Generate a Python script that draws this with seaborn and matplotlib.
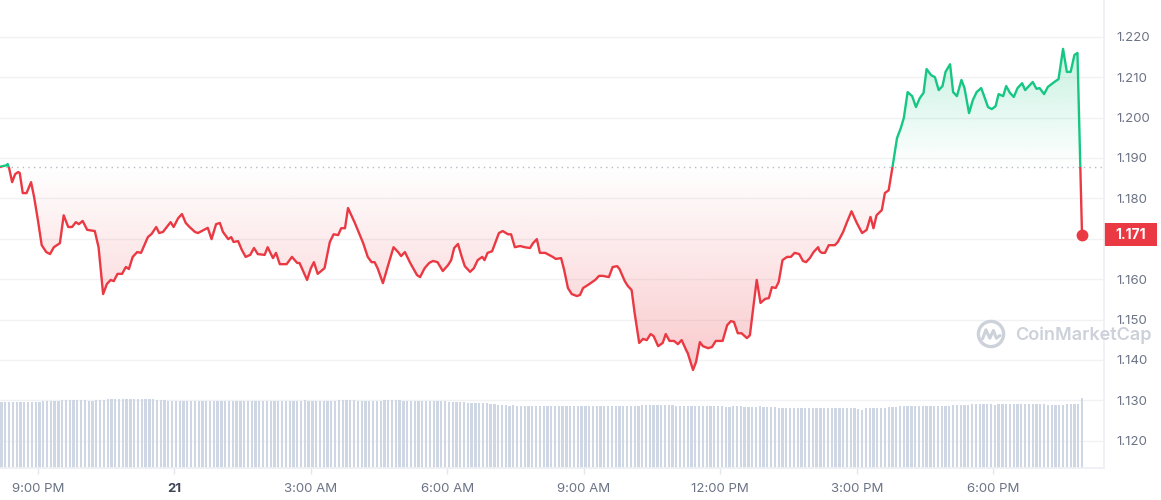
import matplotlib
matplotlib.use("Agg")
import numpy as np
import pandas as pd
import matplotlib.pyplot as plt
import matplotlib.dates as mdates
from matplotlib.colors import to_rgb
from matplotlib.patches import Rectangle, PathPatch, Circle
from matplotlib.transforms import blended_transform_factory
import seaborn as sns

# ---- data ----
START = pd.Timestamp("2024-01-20 20:00")
REF_PRICE = 1.1878
LAST_PRICE = 1.171

# minutes after START
PRICE_MIN = [
    10, 19, 20, 22, 26, 30, 34, 36, 40, 45,
    51, 55, 60, 65, 71, 76, 81, 89, 94, 100,
    105, 110, 114, 119, 125, 135, 140, 146, 151, 156,
    160, 165, 171, 176, 180, 185, 191, 196, 205, 210,
    216, 220, 225, 235, 239, 245, 250, 255, 260, 267,
    271, 279, 284, 289, 295, 300, 304, 311, 315, 318,
    324, 329, 334, 340, 345, 350, 359, 363, 370, 374,
    379, 388, 395, 402, 405, 415, 420, 424, 429, 438,
    445, 450, 456, 460, 465, 469, 478, 489, 495, 500,
    504, 508, 515, 522, 529, 535, 539, 544, 551, 560,
    564, 570, 576, 581, 587, 594, 601, 605, 609, 614,
    619, 623, 630, 635, 640, 646, 649, 653, 659, 663,
    668, 673, 680, 684, 689, 696, 702, 709, 713, 718,
    722, 729, 734, 739, 743, 750, 754, 759, 764, 771,
    775, 779, 785, 795, 800, 805, 813, 818, 824, 827,
    834, 838, 843, 847, 853, 858, 863, 868, 872, 878,
    884, 888, 893, 899, 904, 909, 915, 917, 924, 928,
    933, 937, 944, 949, 954, 963, 969, 974, 978, 983,
    988, 995, 999, 1003, 1008, 1013, 1019, 1024, 1028, 1033,
    1037, 1042, 1048, 1053, 1058, 1064, 1069, 1073, 1078, 1083,
    1089, 1091, 1094, 1098, 1103, 1111, 1115, 1122, 1127, 1133,
    1140, 1147, 1153, 1158, 1162, 1166, 1173, 1177, 1182, 1187,
    1193, 1198, 1202, 1207, 1213, 1218, 1223, 1228, 1232, 1238,
    1243, 1248, 1253, 1257, 1263, 1267, 1272, 1278, 1282, 1288,
    1293, 1298, 1304, 1307, 1313, 1318, 1323, 1327, 1333, 1337,
    1342, 1347, 1352, 1358, 1362, 1367, 1372, 1377, 1381, 1387,
    1392, 1397, 1402, 1406, 1412, 1417, 1422, 1427, 1431, 1437,
]
PRICE = [
    1.1878, 1.1882, 1.1885, 1.1875, 1.1840, 1.1860, 1.1865, 1.1863, 1.1813, 1.1813,
    1.1840, 1.1803, 1.1746, 1.1684, 1.1667, 1.1662, 1.1679, 1.1689, 1.1758, 1.1729,
    1.1729, 1.1741, 1.1736, 1.1744, 1.1722, 1.1719, 1.1679, 1.1563, 1.1588, 1.1598,
    1.1595, 1.1613, 1.1613, 1.1630, 1.1625, 1.1655, 1.1667, 1.1665, 1.1704, 1.1712,
    1.1729, 1.1714, 1.1717, 1.1741, 1.1729, 1.1751, 1.1761, 1.1739, 1.1729, 1.1717,
    1.1714, 1.1722, 1.1727, 1.1699, 1.1736, 1.1739, 1.1717, 1.1699, 1.1704, 1.1692,
    1.1694, 1.1672, 1.1655, 1.1660, 1.1677, 1.1662, 1.1660, 1.1679, 1.1652, 1.1665,
    1.1637, 1.1637, 1.1655, 1.1640, 1.1640, 1.1598, 1.1627, 1.1642, 1.1613, 1.1627,
    1.1692, 1.1711, 1.1709, 1.1726, 1.1726, 1.1776, 1.1739, 1.1689, 1.1655, 1.1642,
    1.1642, 1.1627, 1.1590, 1.1635, 1.1679, 1.1667, 1.1657, 1.1667, 1.1640, 1.1610,
    1.1605, 1.1627, 1.1640, 1.1645, 1.1642, 1.1620, 1.1635, 1.1647, 1.1677, 1.1687,
    1.1655, 1.1632, 1.1618, 1.1627, 1.1647, 1.1655, 1.1647, 1.1665, 1.1669, 1.1689,
    1.1714, 1.1719, 1.1711, 1.1711, 1.1679, 1.1682, 1.1679, 1.1677, 1.1689, 1.1699,
    1.1665, 1.1665, 1.1660, 1.1655, 1.1650, 1.1652, 1.1623, 1.1578, 1.1563, 1.1558,
    1.1561, 1.1578, 1.1585, 1.1598, 1.1608, 1.1608, 1.1605, 1.1630, 1.1632, 1.1625,
    1.1595, 1.1583, 1.1573, 1.1516, 1.1442, 1.1452, 1.1449, 1.1464, 1.1459, 1.1434,
    1.1442, 1.1464, 1.1447, 1.1447, 1.1439, 1.1449, 1.1424, 1.1417, 1.1375, 1.1395,
    1.1444, 1.1434, 1.1429, 1.1432, 1.1447, 1.1447, 1.1486, 1.1496, 1.1494, 1.1466,
    1.1466, 1.1454, 1.1461, 1.1523, 1.1598, 1.1541, 1.1551, 1.1553, 1.1580, 1.1578,
    1.1593, 1.1647, 1.1655, 1.1655, 1.1665, 1.1662, 1.1645, 1.1642, 1.1652, 1.1667,
    1.1679, 1.1669, 1.1665, 1.1665, 1.1684, 1.1684, 1.1692, 1.1717, 1.1741, 1.1768,
    1.1739, 1.1714, 1.1722, 1.1754, 1.1726, 1.1758, 1.1771, 1.1813, 1.1820, 1.1877,
    1.1949, 1.1974, 1.1999, 1.2063, 1.2053, 1.2026, 1.2048, 1.2061, 1.2120, 1.2105,
    1.2100, 1.2068, 1.2078, 1.2113, 1.2132, 1.2063, 1.2053, 1.2093, 1.2073, 1.2011,
    1.2043, 1.2063, 1.2073, 1.2058, 1.2026, 1.2021, 1.2028, 1.2058, 1.2053, 1.2078,
    1.2061, 1.2051, 1.2073, 1.2085, 1.2068, 1.2078, 1.2088, 1.2071, 1.2073, 1.2058,
    1.2076, 1.2083, 1.2090, 1.2095, 1.2170, 1.2113, 1.2113, 1.2155, 1.2160, 1.1710,
]

# 5-minute volume bars, first bar VOL_FIRST_MIN minutes after START (relative units)
VOL_FIRST_MIN = 12
VOLUME = [
    66, 66, 66, 66, 66, 66, 66, 66, 66, 66, 66, 67, 67, 67, 67, 67, 68, 68, 68, 68, 68, 68, 68, 67,
    67, 68, 68, 68, 69, 69, 69, 69, 69, 69, 69, 69, 69, 69, 69, 69, 69, 68, 68, 68, 67, 67, 67, 67,
    67, 67, 67, 67, 67, 67, 67, 67, 67, 67, 67, 67, 67, 67, 67, 67, 67, 67, 67, 67, 67, 67, 67, 67,
    67, 67, 67, 67, 67, 67, 67, 67, 68, 67, 67, 67, 67, 67, 67, 67, 67, 68, 68, 68, 68, 68, 67, 67,
    67, 67, 67, 67, 67, 68, 68, 68, 68, 68, 67, 67, 67, 67, 67, 67, 67, 67, 67, 67, 67, 67, 66, 66,
    66, 66, 66, 65, 65, 65, 65, 65, 65, 64, 64, 63, 63, 63, 62, 63, 62, 62, 62, 62, 62, 62, 62, 62,
    62, 62, 62, 62, 62, 62, 62, 62, 62, 62, 62, 62, 62, 62, 62, 62, 62, 62, 62, 62, 62, 62, 62, 62,
    62, 63, 63, 63, 63, 63, 63, 63, 63, 63, 62, 62, 62, 62, 62, 62, 62, 62, 62, 62, 62, 62, 62, 61,
    61, 62, 62, 62, 61, 61, 61, 61, 62, 61, 61, 61, 61, 60, 60, 60, 60, 60, 60, 60, 60, 60, 60, 60,
    60, 60, 60, 60, 60, 60, 60, 60, 60, 60, 59, 58, 60, 60, 60, 60, 60, 60, 61, 61, 61, 62, 62, 62,
    62, 62, 62, 62, 62, 62, 62, 62, 62, 62, 62, 63, 63, 63, 63, 63, 64, 64, 64, 64, 64, 64, 63, 64,
    64, 64, 64, 64, 64, 64, 64, 64, 64, 64, 64, 64, 63, 63, 63, 63, 63, 64, 64, 64, 64, 70,
]

TICK_TIMES = ["2024-01-20 21:00", "2024-01-21 00:00", "2024-01-21 03:00", "2024-01-21 06:00",
              "2024-01-21 09:00", "2024-01-21 12:00", "2024-01-21 15:00", "2024-01-21 18:00"]
TICK_LABELS = ["9:00 PM", "21", "3:00 AM", "6:00 AM", "9:00 AM", "12:00 PM", "3:00 PM", "6:00 PM"]
PRICE_TICKS = [1.120, 1.130, 1.140, 1.150, 1.160, 1.170, 1.180, 1.190, 1.200, 1.210, 1.220]

RED = "#ea3943"
GREEN = "#16c784"
VOL_COLOR = "#cfd6e4"
GRID = "#f1f2f4"
LABEL = "#6b7385"
WM = "#ccd1da"

sns.set_theme(style="white")
plt.rcParams["font.family"] = ["Inter", "DejaVu Sans"]

times = START + pd.to_timedelta(PRICE_MIN, unit="m")
vol_times = START + pd.to_timedelta(VOL_FIRST_MIN + 5 * np.arange(len(VOLUME)), unit="m")
df = pd.DataFrame({"time": times, "price": PRICE})
xnum = mdates.date2num(times)

fig = plt.figure(figsize=(11.61, 5.0), dpi=100)
ax_vol = fig.add_axes([0, 0.064, 1104 / 1161, 0.936])
ax = ax_vol.twinx()
# volume bars sit on top of the price grid (the price line never reaches them)
ax.set_zorder(0)
ax.patch.set_visible(True)
ax.patch.set_facecolor("white")
ax_vol.set_zorder(1)
ax_vol.patch.set_visible(False)

# volume
ax_vol.bar(mdates.date2num(vol_times), VOLUME, width=5 * 0.6 / 1440, color=VOL_COLOR, linewidth=0)
ax_vol.set_ylim(0, 468)
ax_vol.set_yticks([])

# gradient fills between price and reference line
coll = ax.fill_between(xnum, PRICE, REF_PRICE, color="none", linewidth=0)
fill_path = coll.get_paths()[0]
coll.remove()


def gradient(color, y0, y1, a0, a1):
    rgba = np.zeros((256, 1, 4))
    rgba[..., :3] = to_rgb(color)
    rgba[:, 0, 3] = np.linspace(a0, a1, 256)
    im = ax.imshow(rgba, extent=[xnum[0], xnum[-1], y0, y1], origin="lower",
                   aspect="auto", interpolation="bilinear", zorder=1)
    patch = PathPatch(fill_path, transform=ax.transData, facecolor="none", edgecolor="none")
    ax.add_patch(patch)
    im.set_clip_path(patch)


gradient(RED, min(PRICE), REF_PRICE, 0.27, 0.0)
gradient(GREEN, REF_PRICE, max(PRICE), 0.0, 0.24)

# price line, red below / green above the reference
sns.lineplot(data=df, x="time", y="price", ax=ax, color=RED, linewidth=1.7, zorder=3)
red_line = ax.lines[-1]
sns.lineplot(data=df, x="time", y="price", ax=ax, color=GREEN, linewidth=1.7, zorder=3)
green_line = ax.lines[-1]
red_line.set_clip_path(Rectangle((xnum[0] - 1, 1.0), 3, REF_PRICE - 1.0, transform=ax.transData))
green_line.set_clip_path(Rectangle((xnum[0] - 1, REF_PRICE), 3, 1.0, transform=ax.transData))
for ln in (red_line, green_line):
    ln.set_solid_capstyle("round")
    ln.set_solid_joinstyle("round")

ax.axhline(REF_PRICE, color="#b5bac3", linewidth=1, linestyle=(0, (1, 3)), zorder=2)
ax.plot(times[-1], PRICE[-1], "o", color=RED, markersize=7.5, zorder=4)

# axes styling
ax.set_ylim(1.11324, 1.2291)
ax.set_xlim(xnum[0], mdates.date2num(START + pd.Timedelta(minutes=1466)))
ax.set_yticks(PRICE_TICKS)
# the 1.170 label is hidden under the current-price tag
ax.set_yticklabels(["" if abs(v - LAST_PRICE) < 0.003 else f"{v:.3f}" for v in PRICE_TICKS])
ax.yaxis.grid(True, color=GRID, linewidth=1)
ax.set_axisbelow(True)
ax.tick_params(axis="y", length=0, pad=9, labelsize=9.5, labelcolor=LABEL)
ax.set_xlabel("")
ax.set_ylabel("")
ax_vol.set_ylabel("")

ax_vol.set_xticks(mdates.date2num(pd.to_datetime(TICK_TIMES)))
ax_vol.set_xticklabels(TICK_LABELS)
ax_vol.tick_params(axis="x", length=4, width=1, color="#e3e6eb", pad=7,
                   labelsize=9.5, labelcolor=LABEL, bottom=True)
lbl = ax_vol.get_xticklabels()[1]
lbl.set_fontweight("bold")
lbl.set_color("#3d4454")

for a in (ax, ax_vol):
    for s in a.spines.values():
        s.set_visible(False)
ax_vol.spines["bottom"].set_visible(True)
ax_vol.spines["bottom"].set_color("#eef0f3")
ax_vol.spines["right"].set_visible(True)
ax_vol.spines["right"].set_color("#eef0f3")

# current price tag
bt = blended_transform_factory(ax.transAxes, ax.transData)
ax.add_patch(Rectangle((1.0, LAST_PRICE - 0.0028), 0.048, 0.0056, transform=bt,
                       facecolor=RED, edgecolor="none", clip_on=False, zorder=10))
ax.text(1.024, LAST_PRICE, f"{LAST_PRICE:.3f}", transform=bt, ha="center", va="center",
        color="white", fontsize=10, fontweight="bold", zorder=11, clip_on=False)

# watermark
logo = fig.add_axes([976 / 1161, (500 - 349) / 500, 30 / 1161, 30 / 500])
logo.set_xlim(0, 1)
logo.set_ylim(0, 1)
logo.axis("off")
logo.add_patch(Circle((0.5, 0.5), 0.42, fill=False, edgecolor=WM, linewidth=2.4))
logo.plot([0.22, 0.33, 0.46, 0.58, 0.68, 0.80], [0.34, 0.64, 0.36, 0.62, 0.36, 0.45],
          color=WM, linewidth=2.2, solid_capstyle="round", solid_joinstyle="round")
fig.text(1015 / 1161, 1 - 335 / 500, "CoinMarketCap", fontsize=13, color=WM,
         fontweight="semibold", ha="left", va="center")

fig.savefig("out.png", dpi=100)
